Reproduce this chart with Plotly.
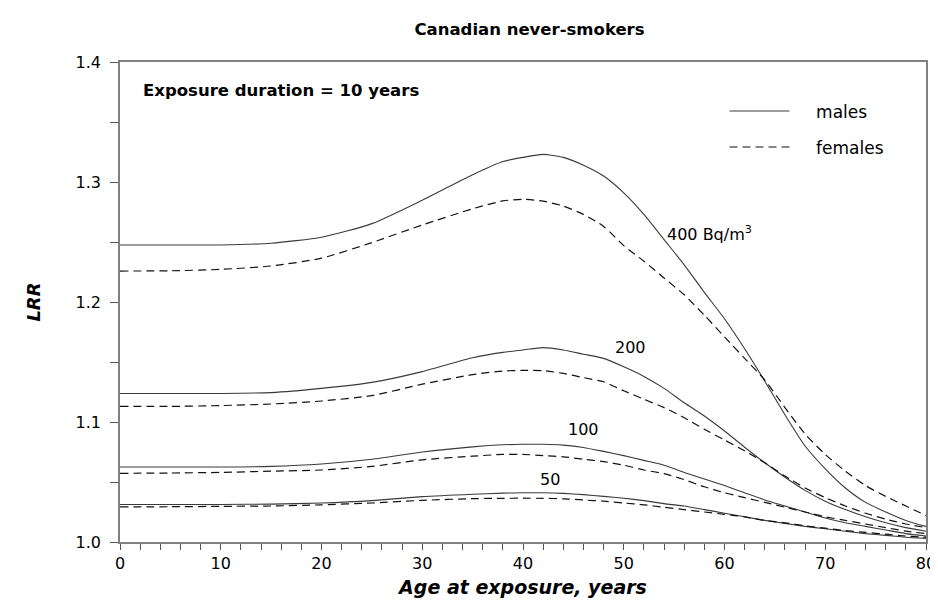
import plotly.graph_objects as go

age = [0, 5, 10, 15, 20, 25, 30, 35, 38, 40, 42, 44, 46, 48, 50, 52, 54, 56, 58, 60,
       62, 64, 66, 68, 70, 72, 74, 76, 78, 80]

males_400 = [1.2475, 1.2475, 1.2475, 1.249, 1.254, 1.2653, 1.2848, 1.306, 1.317, 1.3205,
             1.323, 1.3205, 1.314, 1.305, 1.291, 1.273, 1.252, 1.231, 1.208, 1.186,
             1.161, 1.134, 1.106, 1.080, 1.061, 1.045, 1.033, 1.025, 1.018, 1.013]
females_400 = [1.2258, 1.226, 1.2272, 1.230, 1.2365, 1.2495, 1.2642, 1.2777, 1.2842, 1.2856,
               1.284, 1.280, 1.273, 1.263, 1.247, 1.234, 1.220, 1.206, 1.189, 1.171,
               1.153, 1.135, 1.112, 1.090, 1.073, 1.059, 1.047, 1.038, 1.030, 1.022]
males_200 = [1.1238, 1.1238, 1.1238, 1.1245, 1.128, 1.133, 1.142, 1.1535, 1.158, 1.160,
             1.162, 1.160, 1.1565, 1.153, 1.146, 1.138, 1.128, 1.116, 1.105, 1.0925,
             1.079, 1.066, 1.054, 1.043, 1.034, 1.027, 1.021, 1.016, 1.012, 1.009]
females_200 = [1.113, 1.113, 1.1137, 1.115, 1.1175, 1.122, 1.1315, 1.1395, 1.1425, 1.143,
               1.1428, 1.1405, 1.137, 1.1335, 1.126, 1.119, 1.112, 1.1036, 1.094, 1.085,
               1.076, 1.066, 1.055, 1.045, 1.037, 1.030, 1.024, 1.019, 1.015, 1.012]
males_100 = [1.0625, 1.0625, 1.0625, 1.063, 1.065, 1.069, 1.075, 1.0793, 1.081, 1.0814,
             1.0814, 1.0807, 1.0788, 1.0755, 1.072, 1.068, 1.064, 1.058, 1.0525, 1.047,
             1.041, 1.035, 1.030, 1.025, 1.020, 1.016, 1.013, 1.010, 1.007, 1.005]
females_100 = [1.0572, 1.0575, 1.058, 1.059, 1.060, 1.063, 1.0685, 1.0715, 1.073, 1.073,
               1.072, 1.071, 1.069, 1.067, 1.064, 1.060, 1.057, 1.052, 1.046, 1.041,
               1.037, 1.033, 1.029, 1.025, 1.021, 1.018, 1.015, 1.012, 1.009, 1.007]
males_50 = [1.0313, 1.0313, 1.0313, 1.0316, 1.0325, 1.0345, 1.0378, 1.0398, 1.0407, 1.041,
            1.041, 1.0405, 1.0395, 1.038, 1.0365, 1.0345, 1.032, 1.030, 1.027, 1.024,
            1.021, 1.018, 1.0155, 1.013, 1.011, 1.009, 1.007, 1.0055, 1.004, 1.003]
females_50 = [1.0292, 1.0294, 1.0297, 1.030, 1.031, 1.0325, 1.0347, 1.0361, 1.0364, 1.0365,
              1.0364, 1.036, 1.035, 1.034, 1.0325, 1.031, 1.029, 1.027, 1.025, 1.023,
              1.021, 1.018, 1.016, 1.0135, 1.0115, 1.0095, 1.008, 1.0065, 1.005, 1.004]

x_ticks = [0, 10, 20, 30, 40, 50, 60, 70, 80]
y_ticks = [1.0, 1.1, 1.2, 1.3, 1.4]
y_tick_labels = ["1.0", "1.1", "1.2", "1.3", "1.4"]

level_labels = ["400 Bq/m<sup>3</sup>", "200", "100", "50"]
label_x = [58.5, 50.7, 46.0, 42.7]
label_y = [1.257, 1.162, 1.094, 1.052]

FONT = "DejaVu Sans, Verdana, sans-serif"

fig = go.Figure()

solid = dict(color="#3a3a3a", width=1.1)
dashed = dict(color="#111111", width=1.2, dash="8px,5px")

series = [
    (males_400, solid, "&nbsp;&nbsp;&nbsp;&nbsp;males", True, "legend"),
    (females_400, dashed, "&nbsp;&nbsp;&nbsp;&nbsp;females", True, "legend2"),
    (males_200, solid, "males 200", False, "legend"),
    (females_200, dashed, "females 200", False, "legend2"),
    (males_100, solid, "males 100", False, "legend"),
    (females_100, dashed, "females 100", False, "legend2"),
    (males_50, solid, "males 50", False, "legend"),
    (females_50, dashed, "females 50", False, "legend2"),
]
for vals, ln, name, show, lg in series:
    fig.add_trace(go.Scatter(
        x=age, y=vals, mode="lines", name=name, showlegend=show, legend=lg,
        line=dict(shape="spline", smoothing=0.6, **ln), hoverinfo="skip"))

for t, xx, yy in zip(level_labels, label_x, label_y):
    fig.add_annotation(x=xx, y=yy, text=t, showarrow=False, xref="x", yref="y",
                       font=dict(family=FONT, size=16, color="#000000"))

fig.add_annotation(x=0.026, y=0.94, xref="paper", yref="paper", xanchor="left",
                   yanchor="middle", showarrow=False, text="<b>Exposure duration = 10 years</b>",
                   font=dict(family=FONT, size=16.5, color="#000000"))

axis_common = dict(
    showgrid=False, zeroline=False, showline=True, linecolor="#808080", linewidth=1.5,
    mirror=True, ticks="outside", tickcolor="#555555", tickwidth=1,
    tickfont=dict(family=FONT, size=16, color="#000000"),
)

fig.update_layout(
    width=938, height=609,
    margin=dict(l=112, r=10, t=54, b=75),
    paper_bgcolor="white", plot_bgcolor="white",
    title=dict(text="<b>Canadian never-smokers</b>", x=0.556, xanchor="center",
               y=0.965, yanchor="middle",
               font=dict(family=FONT, size=16.5, color="#000000")),
    xaxis=dict(range=[0, 80], tickvals=x_ticks, ticklen=6,
               minor=dict(dtick=2, ticks="outside", ticklen=6, tickcolor="#555555"),
               title=dict(text="<b><i>Age at exposure, years</i></b>",
                          font=dict(family=FONT, size=19, color="#000000"), standoff=9),
               **axis_common),
    yaxis=dict(range=[1.0, 1.4], tickvals=y_ticks, ticktext=y_tick_labels, ticklen=8,
               ticklabelstandoff=6,
               minor=dict(dtick=0.05, ticks="outside", ticklen=8, tickcolor="#555555"),
               title=dict(text="<b><i>LRR</i></b>",
                          font=dict(family=FONT, size=18, color="#000000"), standoff=30),
               **axis_common),
    legend=dict(x=0.75, y=0.897, xanchor="left", yanchor="middle", itemwidth=60,
                bgcolor="rgba(0,0,0,0)", font=dict(family=FONT, size=17, color="#000000")),
    legend2=dict(x=0.75, y=0.822, xanchor="left", yanchor="middle", itemwidth=60,
                 bgcolor="rgba(0,0,0,0)", font=dict(family=FONT, size=17, color="#000000")),
)

fig.write_html("out.html")
